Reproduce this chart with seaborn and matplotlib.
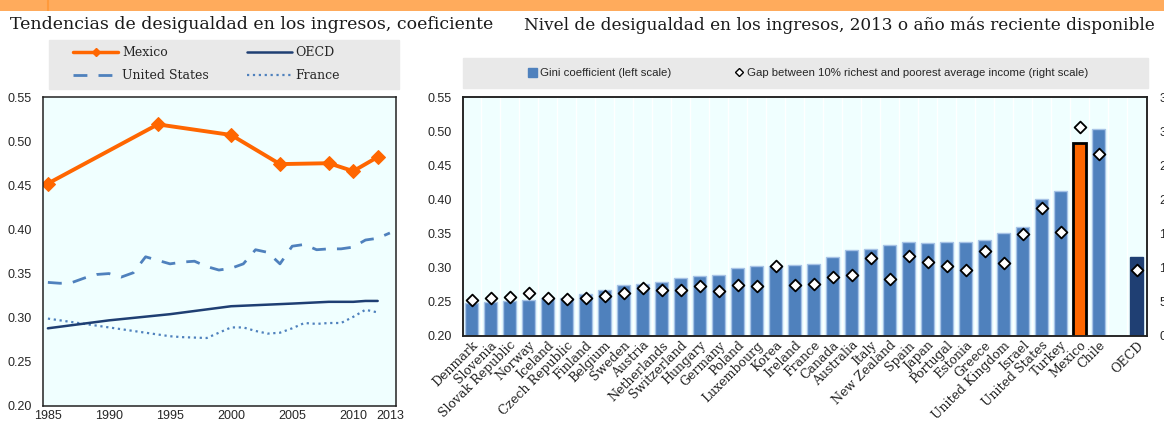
import seaborn as sns
import matplotlib.pyplot as plt
import matplotlib.patches as mpatches
from matplotlib.lines import Line2D
import pandas as pd

# --- left panel: Gini trends ---
mex_years = [1985, 1994, 2000, 2004, 2008, 2010, 2012]
mex_gini = [0.452, 0.519, 0.507, 0.474, 0.475, 0.466, 0.482]

us_years = list(range(1985, 2014))
us_gini = [0.340, 0.339, 0.340, 0.345, 0.349, 0.350, 0.346, 0.351, 0.369, 0.365,
           0.361, 0.363, 0.364, 0.358, 0.354, 0.356, 0.361, 0.377, 0.374, 0.361,
           0.381, 0.383, 0.377, 0.378, 0.378, 0.380, 0.388, 0.390, 0.396]

oecd_years = [1985, 1990, 1995, 2000, 2005, 2008, 2010, 2011, 2012]
oecd_gini = [0.288, 0.297, 0.304, 0.313, 0.316, 0.318, 0.318, 0.319, 0.319]

fra_years = [1985, 1990, 1995, 1996, 1998, 2000, 2001, 2002, 2003, 2004,
             2005, 2006, 2007, 2008, 2009, 2010, 2011, 2012]
fra_gini = [0.299, 0.289, 0.279, 0.278, 0.277, 0.289, 0.289, 0.285, 0.282, 0.283,
            0.288, 0.294, 0.293, 0.294, 0.294, 0.301, 0.309, 0.306]

# --- right panel: level of inequality ---
countries = ["Denmark", "Slovenia", "Slovak Republic", "Norway", "Iceland",
             "Czech Republic", "Finland", "Belgium", "Sweden", "Austria",
             "Netherlands", "Switzerland", "Hungary", "Germany", "Poland",
             "Luxembourg", "Korea", "Ireland", "France", "Canada", "Australia",
             "Italy", "New Zealand", "Spain", "Japan", "Portugal", "Estonia",
             "Greece", "United Kingdom", "Israel", "United States", "Turkey",
             "Mexico", "Chile", "OECD"]
gini = [0.249, 0.250, 0.251, 0.253, 0.256, 0.256, 0.262, 0.268, 0.274, 0.276,
        0.279, 0.285, 0.288, 0.289, 0.300, 0.302, 0.302, 0.304, 0.306, 0.316,
        0.326, 0.327, 0.333, 0.337, 0.336, 0.338, 0.338, 0.340, 0.351, 0.360,
        0.401, 0.412, 0.482, 0.503, 0.315]
gap = [5.3, 5.6, 5.7, 6.3, 5.6, 5.4, 5.6, 5.9, 6.3, 7.1,
       6.8, 6.8, 7.3, 6.6, 7.4, 7.3, 10.2, 7.4, 7.6, 8.7,
       9.0, 11.4, 8.3, 11.7, 10.8, 10.2, 9.7, 12.4, 10.7, 15.0,
       18.8, 15.3, 30.6, 26.7, 9.7]

order = countries[:-1] + [" "] + ["OECD"]

BLUE = "#4F81BD"
NAVY = "#1F3F73"
ORANGE = "#FF6600"
BG = "#F0FFFF"

sns.set_style("white")
plt.rcParams["font.family"] = ["DejaVu Serif"]
sans = ["Liberation Sans", "DejaVu Sans"]

fig = plt.figure(figsize=(11.64, 4.22), dpi=100)
W, H = 1164, 422


def fbox(x0, y0, x1, y1):
    return [x0 / W, 1 - y1 / H, (x1 - x0) / W, (y1 - y0) / H]


# orange band at top
band = fig.add_axes(fbox(0, 0, W, 11))
band.set_facecolor("#FFAB5C")
band.set_xlim(0, W)
band.axvline(48, color="#FF9A3C", lw=1.5)
band.set_xticks([])
band.set_yticks([])
for s in band.spines.values():
    s.set_visible(False)

# titles (left one clipped by the right panel)
tax = fig.add_axes(fbox(0, 12, 496, 42))
tax.axis("off")
tax.text(10 / 496, 0.42, "Tendencias de desigualdad en los ingresos, coeficiente de Gini",
         transform=tax.transAxes, fontsize=12.5, color="#1a1a1a", clip_on=True)
fig.text(524 / W, 1 - 30 / H, "Nivel de desigualdad en los ingresos, 2013 o año más reciente disponible",
         fontsize=12.2, color="#1a1a1a")

# ---------------- left chart ----------------
ax1 = fig.add_axes(fbox(43, 97, 396, 406))
ax1.set_facecolor(BG)
sns.lineplot(x=fra_years, y=fra_gini, ax=ax1, color=BLUE, lw=1.6, linestyle=":")
sns.lineplot(x=us_years, y=us_gini, ax=ax1, color=BLUE, lw=2.0)
ax1.lines[-1].set_dashes([5, 4])
sns.lineplot(x=oecd_years, y=oecd_gini, ax=ax1, color=NAVY, lw=1.8)
sns.lineplot(x=mex_years, y=mex_gini, ax=ax1, color=ORANGE, lw=2.8,
             marker="D", markersize=7, markeredgecolor=ORANGE)
ax1.set_xlim(1984.6, 2013.5)
ax1.set_ylim(0.20, 0.55)
ax1.set_xticks([1985, 1990, 1995, 2000, 2005, 2010, 2013])
ax1.set_yticks([0.20, 0.25, 0.30, 0.35, 0.40, 0.45, 0.50, 0.55])
ax1.set_yticklabels([f"{v:.2f}" for v in ax1.get_yticks()])
ax1.tick_params(axis="x", length=0, labelsize=9, pad=3)
ax1.tick_params(axis="y", length=0, labelsize=9, pad=8)
for lab in ax1.get_xticklabels() + ax1.get_yticklabels():
    lab.set_family(sans)
ax1.set_xlabel("")
ax1.set_ylabel("")
for s in ax1.spines.values():
    s.set_color("#222222")
    s.set_linewidth(1.1)

# left legend box
fig.patches.append(mpatches.Rectangle((49 / W, 1 - 89 / H), 350 / W, 49 / H,
                                      transform=fig.transFigure, color="#E9E9E9", zorder=0))
h_mex = Line2D([], [], color=ORANGE, lw=2.5, marker="D", markersize=4)
h_us = Line2D([], [], color=BLUE, lw=2.0, dashes=[5, 4])
h_oecd = Line2D([], [], color=NAVY, lw=1.8)
h_fra = Line2D([], [], color=BLUE, lw=1.6, linestyle=":")
fig.legend([h_mex, h_us, h_oecd, h_fra], ["Mexico", "United States", "OECD", "France"],
           ncol=2, loc="center left", bbox_to_anchor=(62 / W, 1 - 64 / H),
           frameon=False, fontsize=9, handlelength=3.6, handletextpad=0.3,
           columnspacing=3.05, labelspacing=0.78)

# ---------------- right chart ----------------
ax2 = fig.add_axes(fbox(463, 97, 1147, 336))
ax2.set_facecolor(BG)
df = pd.DataFrame({"country": countries, "gini": gini, "gap": gap})
palette = {c: BLUE for c in countries}
palette["Mexico"] = ORANGE
palette["OECD"] = NAVY
sns.barplot(data=df, x="country", y="gini", order=order, hue="country",
            palette=palette, legend=False, width=0.7, saturation=1,
            edgecolor="#A7C3E6", linewidth=1.0, ax=ax2)
for p in ax2.patches:
    idx = int(round(p.get_x() + p.get_width() / 2))
    if order[idx] == "Mexico":
        p.set_edgecolor("black")
        p.set_linewidth(2.0)
    elif order[idx] == "OECD":
        p.set_edgecolor(NAVY)

ax3 = ax2.twinx()
sns.stripplot(data=df, x="country", y="gap", order=order, jitter=False,
              marker="D", color="white", edgecolor="black", linewidth=1.3,
              size=6, ax=ax3, zorder=5)

ax2.set_xlim(-0.45, 35.55)
ax2.set_ylim(0.20, 0.55)
ax3.set_ylim(0, 35)
ax2.set_yticks([0.20, 0.25, 0.30, 0.35, 0.40, 0.45, 0.50, 0.55])
ax2.set_yticklabels([f"{v:.2f}" for v in ax2.get_yticks()])
ax3.set_yticks(range(0, 40, 5))
ax3.set_yticklabels([str(v) for v in range(0, 40, 5)])
ax2.set_xticks(range(len(order)))
ax2.set_xticklabels(order, rotation=45, ha="right", rotation_mode="anchor",
                    fontsize=9, color="#222222")
ax2.set_xticks([i + 0.5 for i in range(len(order))], minor=True)
ax2.grid(axis="x", which="minor", color="white", lw=1)
ax2.set_axisbelow(True)
ax2.tick_params(axis="x", which="both", length=0, pad=2)
ax2.tick_params(axis="y", length=0, labelsize=9, pad=8)
ax3.tick_params(axis="y", length=0, labelsize=9, pad=9)
for lab in ax2.get_yticklabels() + ax3.get_yticklabels():
    lab.set_family(sans)
for a in (ax2, ax3):
    a.set_xlabel("")
    a.set_ylabel("")
    for s in a.spines.values():
        s.set_color("#222222")
        s.set_linewidth(1.1)

# right legend box
fig.patches.append(mpatches.Rectangle((463 / W, 1 - 88 / H), 685 / W, 30 / H,
                                      transform=fig.transFigure, color="#E9E9E9", zorder=0))
h_bar = mpatches.Patch(color=BLUE)
h_dia = Line2D([], [], lw=0, marker="D", markersize=4.5, markerfacecolor="white",
               markeredgecolor="black", markeredgewidth=1)
fig.legend([h_bar, h_dia],
           ["Gini coefficient (left scale)",
            "Gap between 10% richest and poorest average income (right scale)"],
           ncol=2, loc="center", bbox_to_anchor=(808 / W, 1 - 73 / H), frameon=False,
           prop={"family": sans, "size": 8.2}, handlelength=0.8, handleheight=0.8,
           handletextpad=0.3, columnspacing=5.5)

fig.savefig("out.png", dpi=100)
